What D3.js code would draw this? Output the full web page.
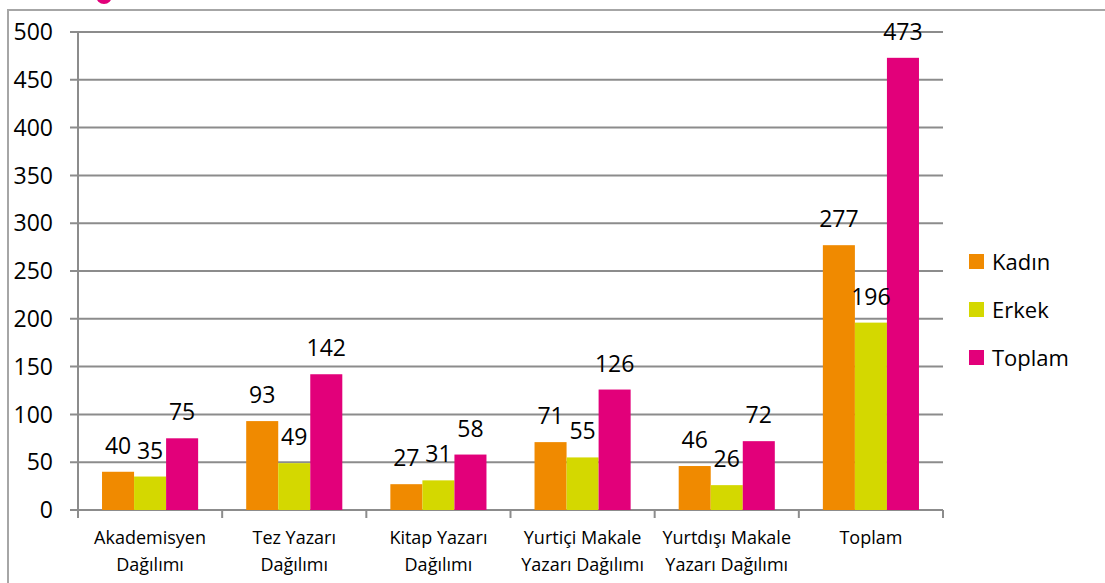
<!DOCTYPE html>
<html>
<head>
<meta charset="utf-8">
<script src="https://cdn.jsdelivr.net/npm/d3@7"></script>
<style>
  body { margin: 0; background: #fff; }
  svg { display: block; font-family: "Open Sans", Lato, sans-serif; }
</style>
</head>
<body>
<div id="chart"></div>
<script>
const categories = [
  ["Akademisyen", "Dağılımı"],
  ["Tez Yazarı", "Dağılımı"],
  ["Kitap Yazarı", "Dağılımı"],
  ["Yurtiçi Makale", "Yazarı Dağılımı"],
  ["Yurtdışı Makale", "Yazarı Dağılımı"],
  ["Toplam"]
];
const seriesNames = ["Kadın", "Erkek", "Toplam"];
const kadin = [40, 93, 27, 71, 46, 277];
const erkek = [35, 49, 31, 55, 26, 196];
const toplam = [75, 142, 58, 126, 72, 473];
const yTicks = [0, 50, 100, 150, 200, 250, 300, 350, 400, 450, 500];
const colors = ["#f08a00", "#d4d800", "#e2007a"];

const W = 1105, H = 583;
const plot = { left: 78, right: 943, top: 32, bottom: 510 };
const series = [kadin, erkek, toplam];

const svg = d3.select("#chart").append("svg")
  .attr("width", W)
  .attr("height", H);

// outer frame (chart area clipped by the picture)
svg.append("rect")
  .attr("x", 8).attr("y", 10)
  .attr("width", W + 20).attr("height", H + 20)
  .attr("fill", "none")
  .attr("stroke", "#a6a6a6")
  .attr("stroke-width", 2);

// bit of title cut off at the top
svg.append("circle")
  .attr("cx", 104).attr("cy", -4).attr("r", 8)
  .attr("fill", "#e2007a");

const x = d3.scaleBand()
  .domain(d3.range(categories.length))
  .range([plot.left, plot.right])
  .paddingInner(0)
  .paddingOuter(0);

const xInner = d3.scaleBand()
  .domain(d3.range(series.length))
  .range([0, x.bandwidth()])
  .paddingOuter(0.75)
  .paddingInner(0);

const y = d3.scaleLinear()
  .domain([0, 500])
  .range([plot.bottom, plot.top]);

// gridlines
svg.append("g")
  .selectAll("line")
  .data(yTicks)
  .join("line")
  .attr("x1", plot.left - 8)
  .attr("x2", plot.right)
  .attr("y1", d => y(d))
  .attr("y2", d => y(d))
  .attr("stroke", "#8c8c8c")
  .attr("stroke-width", 2);

// y axis labels
svg.append("g")
  .selectAll("text")
  .data(yTicks)
  .join("text")
  .attr("x", 53)
  .attr("y", d => y(d))
  .attr("dy", "0.36em")
  .attr("text-anchor", "end")
  .attr("font-size", 23)
  .attr("fill", "#000")
  .text(d => d);

// y axis line
svg.append("line")
  .attr("x1", plot.left).attr("x2", plot.left)
  .attr("y1", plot.top).attr("y2", plot.bottom)
  .attr("stroke", "#8c8c8c")
  .attr("stroke-width", 2);

// x axis category ticks
const bounds = d3.range(categories.length + 1).map(i => i < categories.length ? x(i) : plot.right);
svg.append("g")
  .selectAll("line")
  .data(bounds)
  .join("line")
  .attr("x1", d => d).attr("x2", d => d)
  .attr("y1", plot.bottom).attr("y2", plot.bottom + 8)
  .attr("stroke", "#8c8c8c")
  .attr("stroke-width", 2);

// bars
const groups = svg.append("g")
  .selectAll("g")
  .data(categories.map((c, i) => i))
  .join("g")
  .attr("transform", i => "translate(" + x(i) + ",0)");

groups.selectAll("rect")
  .data(i => series.map((s, k) => ({ k: k, v: s[i] })))
  .join("rect")
  .attr("x", d => xInner(d.k))
  .attr("y", d => y(d.v))
  .attr("width", xInner.bandwidth())
  .attr("height", d => y(0) - y(d.v))
  .attr("fill", d => colors[d.k]);

groups.selectAll("text.val")
  .data(i => series.map((s, k) => ({ k: k, v: s[i] })))
  .join("text")
  .attr("class", "val")
  .attr("x", d => xInner(d.k) + xInner.bandwidth() / 2)
  .attr("y", d => y(d.v) - 18)
  .attr("text-anchor", "middle")
  .attr("font-size", 23)
  .attr("fill", "#000")
  .text(d => d.v);

// x category labels
const xl = svg.append("g")
  .selectAll("text")
  .data(categories)
  .join("text")
  .attr("x", (d, i) => x(i) + x.bandwidth() / 2)
  .attr("y", 544)
  .attr("text-anchor", "middle")
  .attr("font-size", 18)
  .attr("fill", "#000");
xl.selectAll("tspan")
  .data(d => d)
  .join("tspan")
  .attr("x", function() { return d3.select(this.parentNode).attr("x"); })
  .attr("dy", (d, j) => j === 0 ? 0 : 27)
  .text(d => d);

// legend
const legend = svg.append("g")
  .attr("transform", "translate(969, 254)");
legend.selectAll("rect")
  .data(seriesNames)
  .join("rect")
  .attr("x", 0)
  .attr("y", (d, i) => i * 48)
  .attr("width", 15)
  .attr("height", 15)
  .attr("fill", (d, i) => colors[i]);
legend.selectAll("text")
  .data(seriesNames)
  .join("text")
  .attr("x", 23)
  .attr("y", (d, i) => i * 48 + 8)
  .attr("dy", "0.36em")
  .attr("font-size", 22)
  .attr("fill", "#000")
  .text(d => d);
</script>
</body>
</html>
